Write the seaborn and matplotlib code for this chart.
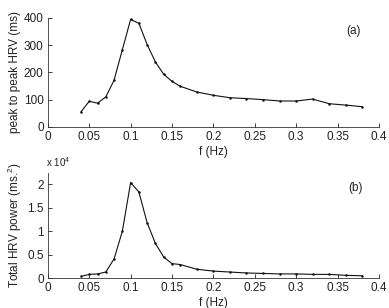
import matplotlib
matplotlib.use("Agg")
import matplotlib.pyplot as plt
import seaborn as sns
import pandas as pd
from matplotlib.ticker import FuncFormatter

freq = [0.04, 0.05, 0.06, 0.07, 0.08, 0.09, 0.10, 0.11, 0.12, 0.13, 0.14, 0.15,
        0.16, 0.18, 0.20, 0.22, 0.24, 0.26, 0.28, 0.30, 0.32, 0.34, 0.36, 0.38]
p2p_hrv = [55, 94, 87, 110, 171, 283, 394, 380, 302, 238, 193, 167,
           149, 128, 116, 107, 104, 100, 95, 95, 102, 85, 80, 74]
total_power = [360, 800, 900, 1300, 4100, 10000, 20400, 18400, 11800, 7400, 4500, 3100,
               2900, 1900, 1500, 1300, 1100, 1000, 900, 900, 800, 800, 600, 500]

df = pd.DataFrame({"f": freq, "p2p": p2p_hrv, "power": total_power})

sns.set_style("ticks")
plt.rcParams['font.family'] = ['Liberation Sans', 'DejaVu Sans']
plt.rcParams['mathtext.fontset'] = 'custom'
plt.rcParams['mathtext.rm'] = 'Liberation Sans'

fig = plt.figure(figsize=(3.89, 3.08), dpi=100)
ax1 = fig.add_axes([0.123, 0.588, 0.851, 0.354])
ax2 = fig.add_axes([0.123, 0.097, 0.851, 0.342])

fs = 8.5
txtcol = "#222222"
for ax, col in [(ax1, "p2p"), (ax2, "power")]:
    sns.lineplot(data=df, x="f", y=col, ax=ax, color="#111111", linewidth=0.8,
                 marker="o", markersize=1.8, markeredgewidth=0)
    ax.set_xlim(0, 0.4)
    ax.set_xticks([0, 0.05, 0.1, 0.15, 0.2, 0.25, 0.3, 0.35, 0.4])
    ax.set_xticklabels(["0", "0.05", "0.1", "0.15", "0.2", "0.25", "0.3", "0.35", "0.4"])
    ax.tick_params(direction="in", length=3, width=0.6, labelsize=fs, pad=3,
                   colors=txtcol)
    sns.despine(ax=ax)
    for s in ["left", "bottom"]:
        ax.spines[s].set_linewidth(0.6)
        ax.spines[s].set_color("#333333")
    ax.set_xlabel("f (Hz)", fontsize=fs, labelpad=2, color=txtcol)

ax1.set_ylim(0, 400)
ax1.set_yticks([0, 100, 200, 300, 400])
ax1.set_ylabel("peak to peak HRV (ms)", fontsize=fs, labelpad=2, color=txtcol)
ax1.text(0.361, 342, "(a)", fontsize=fs, color=txtcol)

ax2.set_ylim(0, 22500)
ax2.set_yticks([0, 5000, 10000, 15000, 20000])
ax2.yaxis.set_major_formatter(FuncFormatter(lambda v, p: f"{v/1e4:g}"))
ax2.set_ylabel(r"Total HRV power (ms.$^2$)", fontsize=fs, labelpad=2, color=txtcol)
ax2.text(-0.005, 1.035, r"x 10$^4$", transform=ax2.transAxes, fontsize=7,
         ha="left", va="bottom", color=txtcol)
ax2.text(0.363, 18700, "(b)", fontsize=fs, color=txtcol)

fig.savefig("out.png", dpi=100)
